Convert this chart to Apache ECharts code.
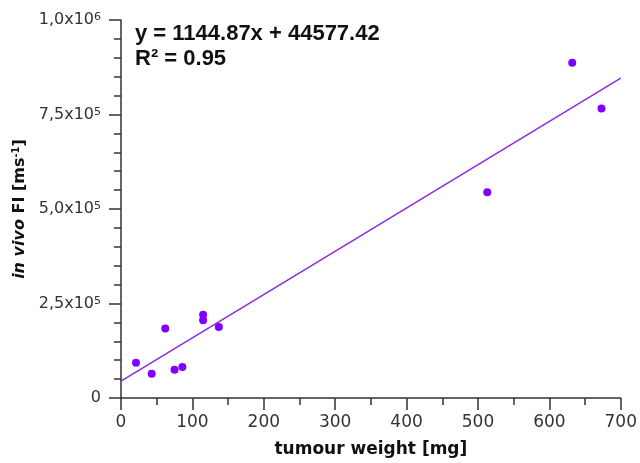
<!DOCTYPE html>
<html>
<head>
<meta charset="utf-8">
<script src="https://cdn.jsdelivr.net/npm/echarts@6/dist/echarts.min.js"></script>
<style>
  html, body { margin: 0; padding: 0; background: #fff; }
  #chart { width: 640px; height: 463px; }
</style>
</head>
<body>
<div id="chart"></div>
<script>
// tumour weight [mg]
var weights = [21, 43, 62, 75, 86, 115, 115, 137, 513, 632, 673];
// in vivo FI [ms-1]
var fluorescence = [93000, 64000, 184000, 75000, 82000, 220000, 206000, 188000, 544000, 887000, 766000];

// linear fit shown on the chart
var slope = 1144.87;
var intercept = 44577.42;
var fitRange = [0, 700];

var points = weights.map(function (w, i) { return [w, fluorescence[i]]; });
var fitLine = fitRange.map(function (x) { return [x, slope * x + intercept]; });

function yLabel(v) {
  if (v === 0) return '0';
  var e = Math.floor(Math.log10(v) + 1e-9);
  var m = v / Math.pow(10, e);
  return m.toFixed(1).replace('.', ',') + 'x10{sup|' + e + '}';
}

var chart = echarts.init(document.getElementById('chart'));
var axisColor = '#333';

chart.setOption({
  animation: false,
  grid: { left: 121, right: 17, top: 20, bottom: 64 },
  xAxis: {
    type: 'value',
    min: 0, max: 700, interval: 100,
    name: 'tumour weight [mg]',
    nameLocation: 'middle',
    nameGap: 43,
    nameTextStyle: { fontFamily: 'DejaVu Sans', fontWeight: 'bold', fontSize: 17, color: '#111' },
    axisLine: { lineStyle: { color: axisColor, width: 1.5 } },
    axisTick: { length: 12, lineStyle: { color: axisColor, width: 1.5 } },
    minorTick: { show: true, splitNumber: 2, length: 7, lineStyle: { color: axisColor, width: 1.5 } },
    splitLine: { show: false },
    axisLabel: { margin: 16, fontFamily: 'DejaVu Sans', fontSize: 17, color: axisColor }
  },
  yAxis: {
    type: 'value',
    min: 0, max: 1000000, interval: 250000,
    name: '{it|in vivo} FI [ms{sup|-1}]',
    nameLocation: 'middle',
    nameGap: 90,
    nameRotate: 90,
    nameTextStyle: {
      fontFamily: 'DejaVu Sans', fontWeight: 'bold', fontSize: 16, color: '#111',
      rich: {
        it: { fontFamily: 'DejaVu Sans', fontWeight: 'bold', fontStyle: 'italic', fontSize: 16, color: '#111' },
        sup: { fontFamily: 'DejaVu Sans', fontWeight: 'bold', fontSize: 10, color: '#111', verticalAlign: 'top', lineHeight: 16 }
      }
    },
    axisLine: { show: true, lineStyle: { color: axisColor, width: 1.5 } },
    axisTick: { show: true, length: 12, lineStyle: { color: axisColor, width: 1.5 } },
    minorTick: { show: true, splitNumber: 5, length: 7, lineStyle: { color: axisColor, width: 1.5 } },
    splitLine: { show: false },
    axisLabel: {
      margin: 20,
      fontFamily: 'DejaVu Sans', fontSize: 16, color: axisColor,
      formatter: yLabel,
      rich: {
        sup: { fontFamily: 'DejaVu Sans', fontSize: 11, color: axisColor, verticalAlign: 'top', lineHeight: 16 }
      }
    }
  },
  graphic: [
    {
      type: 'text', left: 135, top: 23,
      style: { text: 'y = 1144.87x + 44577.42', font: 'bold 22px "Liberation Sans", Arial', fill: '#111' }
    },
    {
      type: 'text', left: 135, top: 48,
      style: { text: 'R² = 0.95', font: 'bold 22px "Liberation Sans", Arial', fill: '#111' }
    }
  ],
  series: [
    {
      type: 'line',
      data: fitLine,
      showSymbol: false,
      lineStyle: { color: '#8a2be2', width: 1.5 },
      z: 2
    },
    {
      type: 'scatter',
      data: points,
      symbolSize: 8,
      itemStyle: { color: '#7f00ff', opacity: 1 },
      z: 3
    }
  ]
});
</script>
</body>
</html>
